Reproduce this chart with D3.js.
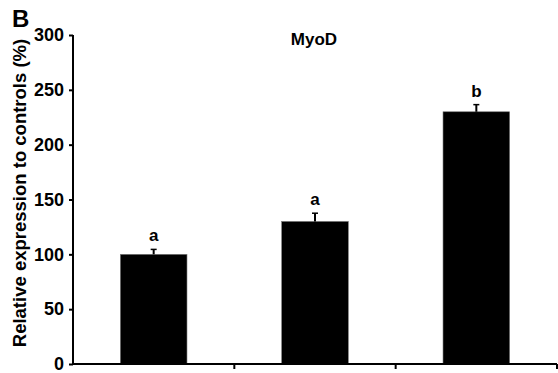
<!DOCTYPE html>
<html>
<head>
<meta charset="utf-8">
<script src="https://cdn.jsdelivr.net/npm/d3@7"></script>
<style>
  body { margin: 0; background: #fff; }
  svg text { font-family: Arial, "Liberation Sans", sans-serif; font-weight: bold; fill: #000; }
</style>
</head>
<body>
<svg width="558" height="373"></svg>
<script>
// data
var groups = ['Group 1', 'Group 2', 'Group 3'];
var means = [100, 130, 230];
var errors = [4.5, 7.5, 6.5];
var letters = ['a', 'a', 'b'];
var yTicks = [0, 50, 100, 150, 200, 250, 300];

var svg = d3.select('svg');

var x = d3.scaleBand()
    .domain(groups)
    .range([73, 557])
    .paddingInner(0.587)
    .paddingOuter(0.2935);

var y = d3.scaleLinear()
    .domain([0, 300])
    .range([364, 35]);

var rows = groups.map((g, i) => ({ g: g, m: means[i], e: errors[i], l: letters[i] }));

// bars
svg.append('g')
    .selectAll('rect')
    .data(rows)
    .enter()
    .append('rect')
    .attr('x', d => x(d.g))
    .attr('y', d => y(d.m))
    .attr('width', x.bandwidth())
    .attr('height', d => y(0) - y(d.m))
    .attr('fill', '#000')
    .attr('stroke', '#777')
    .attr('stroke-width', 0.6);

// error bars (upper only)
var eb = svg.append('g')
    .selectAll('g')
    .data(rows)
    .enter()
    .append('g')
    .attr('transform', d => 'translate(' + (x(d.g) + x.bandwidth() / 2) + ',0)');

eb.append('line')
    .attr('y1', d => y(d.m))
    .attr('y2', d => y(d.m + d.e))
    .attr('stroke', '#000')
    .attr('stroke-width', 2);

eb.append('line')
    .attr('x1', -3)
    .attr('x2', 3)
    .attr('y1', d => y(d.m + d.e))
    .attr('y2', d => y(d.m + d.e))
    .attr('stroke', '#000')
    .attr('stroke-width', 1.5);

// significance letters
eb.append('text')
    .attr('y', d => y(d.m + d.e) - 8)
    .attr('text-anchor', 'middle')
    .style('font-size', '17px')
    .text(d => d.l);

// y axis
var yAxis = svg.append('g')
    .attr('transform', 'translate(73,0)')
    .call(d3.axisLeft(y).tickValues(yTicks).tickSize(4).tickPadding(5));

yAxis.select('.domain').attr('stroke-width', 2).attr('d', 'M0,' + y(300) + 'V' + y(0));
yAxis.selectAll('.tick line').attr('stroke-width', 2);
yAxis.selectAll('.tick text')
    .style('font-size', '18px')
    .style('font-family', 'Arial, "Liberation Sans", sans-serif')
    .style('font-weight', 'bold');

// x axis: ticks at group boundaries, no labels
var step = x.step();
var bounds = groups.map(g => x(g) + x.bandwidth() / 2 + step / 2);

var xAxis = svg.append('g')
    .attr('transform', 'translate(0,' + y(0) + ')');

xAxis.append('line')
    .attr('x1', x.range()[0] - 1)
    .attr('x2', x.range()[1])
    .attr('stroke', '#000')
    .attr('stroke-width', 2);

xAxis.selectAll('line.tk')
    .data(bounds)
    .enter()
    .append('line')
    .attr('class', 'tk')
    .attr('x1', d => d)
    .attr('x2', d => d)
    .attr('y1', 0)
    .attr('y2', 5)
    .attr('stroke', '#000')
    .attr('stroke-width', 2);

// y axis title
svg.append('text')
    .attr('transform', 'translate(26,' + 193 + ') rotate(-90)')
    .attr('text-anchor', 'middle')
    .style('font-size', '18.5px')
    .text('Relative expression to controls (%)');

// chart title
svg.append('text')
    .attr('x', 314)
    .attr('y', 45)
    .attr('text-anchor', 'middle')
    .style('font-size', '17px')
    .text('MyoD');

// panel letter
svg.append('text')
    .attr('x', 12)
    .attr('y', 27)
    .style('font-size', '24px')
    .text('B');
</script>
</body>
</html>
